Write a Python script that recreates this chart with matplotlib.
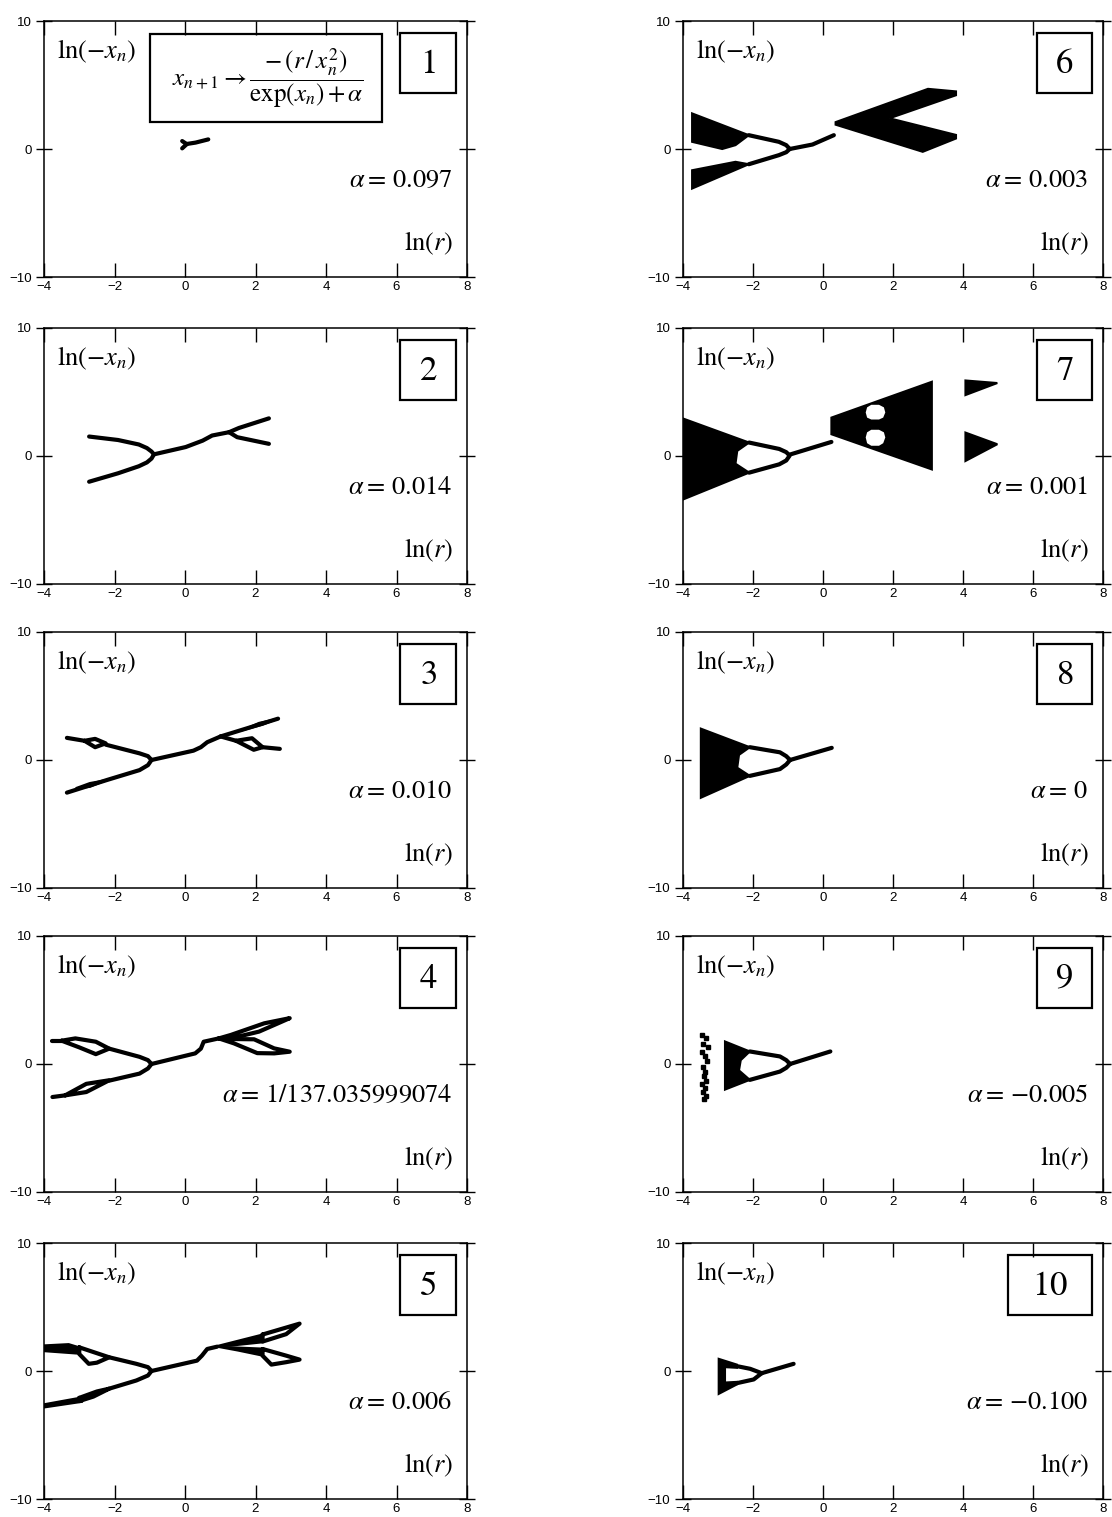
import matplotlib
matplotlib.use("Agg")
import matplotlib.pyplot as plt
from matplotlib.patches import Rectangle

plt.rcParams['mathtext.fontset'] = 'stix'
plt.rcParams['font.family'] = ['Liberation Sans', 'DejaVu Sans']

panel_nums = ['1', '2', '3', '4', '5', '6', '7', '8', '9', '10']
alpha_labels = ['0.097', '0.014', '0.010', '1/137.035999074', '0.006',
                '0.003', '0.001', '0', '-0.005', '-0.100']
x_ticks = [-4, -2, 0, 2, 4, 6, 8]
y_ticks = [-10, 0, 10]

# branches (polylines) as (ln r, ln(-x_n))
p1_lines = [
    [(-0.08, 0.62), (0.05, 0.38)],
    [(-0.08, 0.05), (0.05, 0.38)],
    [(0.02, 0.38), (0.30, 0.50), (0.66, 0.75)],
]
p2_lines = [
    [(-2.72, 1.52), (-1.9, 1.25), (-1.31, 0.9), (-1.08, 0.62), (-0.95, 0.35), (-0.88, 0.13)],
    [(-2.72, -2.01), (-1.9, -1.35), (-1.31, -0.8), (-1.08, -0.5), (-0.95, -0.2), (-0.88, 0.13)],
    [(-0.88, 0.13), (0.02, 0.70), (0.5, 1.2), (0.77, 1.60), (1.25, 1.86)],
    [(1.25, 1.86), (1.53, 2.19), (2.38, 2.94)],
    [(1.25, 1.86), (1.48, 1.47), (2.38, 0.95)],
]
p3_lines = [
    [(-3.35, 1.73), (-2.85, 1.5)],
    [(-2.85, 1.5), (-2.55, 1.65), (-2.25, 1.3), (-2.55, 1.0), (-2.85, 1.5)],
    [(-2.25, 1.2), (-1.29, 0.52), (-1.05, 0.3), (-0.95, 0.0)],
    [(-3.35, -2.55), (-2.2, -1.55), (-1.29, -0.79), (-1.05, -0.4), (-0.95, 0.0)],
    [(-0.95, 0.0), (0.24, 0.73), (0.45, 1.0), (0.63, 1.39), (1.01, 1.84)],
    [(1.01, 1.84), (1.87, 2.57), (2.64, 3.23)],
    [(1.01, 1.84), (1.45, 1.5)],
    [(1.45, 1.5), (1.9, 1.7), (2.2, 1.0), (1.95, 0.8), (1.45, 1.5)],
    [(2.2, 1.0), (2.69, 0.87)],
]
p3_fills = [
    [(-3.1, -2.2), (-2.7, -1.8), (-2.2, -1.55), (-2.7, -2.1)],
    [(1.6, 2.3), (2.1, 2.9), (2.64, 3.23), (2.2, 2.75)],
]
p4_lines = [
    [(-3.76, 1.82), (-3.5, 1.82)],
    [(-3.5, 1.82), (-3.11, 2.0), (-2.53, 1.74), (-2.15, 1.2), (-2.53, 0.77), (-3.0, 1.3), (-3.5, 1.82)],
    [(-2.15, 1.2), (-1.29, 0.56), (-1.05, 0.3), (-0.95, 0.0)],
    [(-3.76, -2.58), (-3.4, -2.45)],
    [(-3.4, -2.45), (-2.8, -1.55), (-2.15, -1.27), (-2.8, -2.19), (-3.4, -2.45)],
    [(-2.15, -1.3), (-1.29, -0.75), (-1.05, -0.35), (-0.95, 0.0)],
    [(-0.95, 0.0), (0.29, 0.83), (0.45, 1.2), (0.53, 1.74), (0.96, 2.0)],
    [(0.96, 2.0), (1.3, 2.27), (2.25, 3.18), (2.97, 3.58), (2.64, 3.18), (2.1, 2.53), (1.3, 2.0), (0.96, 2.0)],
    [(0.96, 2.0), (1.39, 1.95), (1.96, 1.93), (2.53, 1.22), (2.97, 0.96), (2.53, 0.83),
     (2.05, 0.85), (1.39, 1.61), (0.96, 2.0)],
]
p5_lines = [
    [(-3.0, 1.85), (-2.15, 1.07), (-2.5, 0.65), (-2.73, 0.56), (-3.0, 1.33), (-3.0, 1.85)],
    [(-2.15, 1.07), (-1.38, 0.56), (-1.05, 0.3), (-0.95, 0.0)],
    [(-3.0, -2.1), (-2.5, -1.6), (-2.15, -1.38), (-2.6, -2.0), (-3.0, -2.35), (-3.0, -2.1)],
    [(-2.15, -1.38), (-1.38, -0.74), (-1.05, -0.35), (-0.95, 0.0)],
    [(-0.95, 0.0), (0.34, 0.81), (0.48, 1.2), (0.63, 1.72), (0.91, 1.9)],
    [(2.2, 2.85), (3.25, 3.7), (2.87, 2.88), (2.2, 2.3), (2.2, 2.85)],
    [(2.2, 1.72), (2.87, 1.2), (3.25, 0.89), (2.87, 0.69), (2.45, 0.5), (2.2, 1.2), (2.2, 1.72)],
]
p5_fills = [
    [(-4.0, 2.0), (-3.3, 2.1), (-3.0, 1.85), (-3.0, 1.35), (-4.0, 1.55)],
    [(-4.0, -2.6), (-3.0, -2.1), (-2.9, -2.4), (-4.0, -2.85)],
    [(0.91, 1.95), (2.2, 2.85), (2.2, 2.24), (1.3, 1.98)],
    [(0.91, 1.9), (2.2, 1.75), (2.2, 1.2), (1.5, 1.6)],
]
p6_lines = [
    [(-2.12, 1.08), (-1.26, 0.56), (-1.05, 0.3), (-0.95, 0.0)],
    [(-2.12, -1.19), (-1.26, -0.48), (-1.05, -0.25), (-0.95, 0.0)],
    [(-0.95, 0.0), (-0.3, 0.35), (0.31, 1.08)],
]
p6_fills = [
    [(-3.74, 2.78), (-2.12, 1.08), (-2.5, 0.3), (-2.88, 0.0), (-3.74, 0.56)],
    [(-3.74, -1.66), (-2.5, -1.0), (-2.12, -1.19), (-3.74, -3.09)],
    [(0.36, 2.1), (3.0, 4.7), (3.8, 4.5), (3.8, 4.2), (1.9, 2.4), (3.8, 1.1),
     (3.8, 0.82), (2.85, -0.22), (0.36, 1.9)],
]
p7_lines = [
    [(-2.11, 1.05), (-1.25, 0.55), (-1.05, 0.3), (-0.96, 0.05)],
    [(-2.11, -1.3), (-1.25, -0.65), (-1.05, -0.35), (-0.96, 0.0)],
    [(-0.96, 0.1), (0.24, 1.1)],
]
p7_fills = [
    [(-4.0, 2.93), (-2.11, 1.05), (-2.45, 0.4), (-2.5, -0.6), (-2.11, -1.3), (-4.0, -3.4)],
    [(0.24, 3.0), (3.11, 5.8), (3.11, -1.05), (0.24, 1.7)],
    [(4.07, 5.9), (4.98, 5.7), (4.07, 4.76)],
    [(4.07, 1.83), (4.98, 0.92), (4.07, -0.39)],
]
p7_holes = [
    [(1.22, 3.4), (1.26, 3.8), (1.38, 4.0), (1.6, 4.0), (1.74, 3.8), (1.78, 3.4),
     (1.72, 3.0), (1.6, 2.85), (1.38, 2.85), (1.26, 3.0)],
    [(1.22, 1.45), (1.26, 1.85), (1.38, 2.05), (1.6, 2.05), (1.74, 1.85), (1.78, 1.45),
     (1.72, 1.0), (1.6, 0.8), (1.38, 0.8), (1.26, 1.0)],
]
p8_lines = [
    [(-2.09, 1.0), (-1.23, 0.6), (-1.05, 0.3), (-0.94, 0.0)],
    [(-2.09, -1.24), (-1.23, -0.71), (-1.05, -0.35), (-0.94, 0.0)],
    [(-0.94, 0.0), (0.25, 0.95)],
]
p8_fills = [
    [(-3.49, 2.45), (-2.09, 1.0), (-2.4, 0.4), (-2.45, -0.6), (-2.09, -1.24), (-3.49, -2.95)],
]
p9_lines = [
    [(-2.09, 0.98), (-1.23, 0.59), (-1.05, 0.3), (-0.94, 0.0)],
    [(-2.09, -1.24), (-1.23, -0.59), (-1.05, -0.3), (-0.94, 0.0)],
    [(-0.94, 0.0), (0.21, 0.98)],
]
p9_fills = [
    [(-2.8, 1.76), (-2.09, 0.98), (-2.35, 0.3), (-2.4, -0.5), (-2.09, -1.24), (-2.8, -2.0)],
]
p9_dots_x = [-3.45, -3.35, -3.42, -3.3, -3.45, -3.38, -3.32, -3.44, -3.36, -3.4,
             -3.33, -3.45, -3.37, -3.42, -3.35, -3.4]
p9_dots_y = [2.3, 2.0, 1.6, 1.3, 0.9, 0.6, 0.2, -0.2, -0.6, -0.9,
             -1.3, -1.6, -1.9, -2.2, -2.5, -2.7]
p10_lines = [
    [(-2.46, 0.38), (-2.08, 0.17), (-1.75, -0.17)],
    [(-2.46, -0.95), (-1.98, -0.66), (-1.75, -0.17)],
    [(-1.75, -0.17), (-0.84, 0.56)],
]
p10_fills = [
    [(-2.98, 0.95), (-2.46, 0.5), (-2.46, 0.25), (-2.8, 0.3), (-2.8, -0.9),
     (-2.46, -0.85), (-2.46, -1.05), (-2.98, -1.79)],
]

panel_lines = [p1_lines, p2_lines, p3_lines, p4_lines, p5_lines,
               p6_lines, p7_lines, p8_lines, p9_lines, p10_lines]
panel_fills = [[], [], p3_fills, [], p5_fills, p6_fills, p7_fills, p8_fills, p9_fills, p10_fills]
panel_holes = [[], [], [], [], [], [], p7_holes, [], [], []]

W, H = 1112, 1517
col_left = [44, 683]
col_width = [423, 420]
row_top = [21, 328, 632, 936, 1243]
ax_h = 256


def draw_poly(ax, pts, color, lw):
    xs, ys = zip(*pts)
    ax.fill(xs, ys, color=color, lw=lw)


def draw_panel(ax, i):
    for pts in panel_lines[i]:
        xs, ys = zip(*pts)
        ax.plot(xs, ys, '-', color='black', lw=3.0, solid_capstyle='round',
                solid_joinstyle='round')
    for pts in panel_fills[i]:
        draw_poly(ax, pts, 'black', 1.5)
    for pts in panel_holes[i]:
        draw_poly(ax, pts, 'white', 0)
    if i == 8:
        ax.plot(p9_dots_x, p9_dots_y, 's', color='black', ms=2.5)

    ax.set_xlim(-4, 8)
    ax.set_ylim(-10, 10)
    ax.set_xticks(x_ticks)
    ax.set_yticks(y_ticks)
    ax.tick_params(direction='in', length=10, width=1, top=True, right=True,
                   labelsize=9.5, pad=3)
    ax.tick_params(axis='y', which='both', right=True, direction='inout', length=12)
    for s in ax.spines.values():
        s.set_linewidth(1.1)

    ax.text(0.03, 0.88, r'$\mathrm{ln}(-x_n)$', transform=ax.transAxes,
            fontsize=19, ha='left', va='center')
    ax.text(0.967, 0.13, r'$\mathrm{ln}(r)$', transform=ax.transAxes,
            fontsize=19, ha='right', va='center')
    val = alpha_labels[i].replace('-', '{-}')
    ax.text(0.965, 0.38, r'$\alpha{=}\,%s$' % val, transform=ax.transAxes,
            fontsize=19, ha='right', va='center')

    # numbered box in the top right corner
    bw = 0.2 if i == 9 else 0.132
    ax.add_patch(Rectangle((0.974 - bw, 0.72), bw, 0.233, transform=ax.transAxes,
                           fill=False, lw=1.6, color='black'))
    ax.text(0.974 - bw / 2, 0.835, r'$\mathrm{%s}$' % panel_nums[i], transform=ax.transAxes,
            fontsize=25, ha='center', va='center')

    if i == 0:
        ax.add_patch(Rectangle((0.25, 0.605), 0.55, 0.345, transform=ax.transAxes,
                               fill=False, lw=1.6, color='black'))
        ax.text(0.53, 0.775,
                r'$x_{n+1} \rightarrow \dfrac{-\,(r\,/\,x_n^2)}{\exp(x_n)+\alpha}$',
                transform=ax.transAxes, fontsize=18, ha='center', va='center')


fig = plt.figure(figsize=(W / 100, H / 100), dpi=100)
for i in range(10):
    col = i // 5
    row = i % 5
    rect = [col_left[col] / W, 1 - (row_top[row] + ax_h) / H, col_width[col] / W, ax_h / H]
    ax = fig.add_axes(rect)
    draw_panel(ax, i)

fig.savefig('out.png', dpi=100)
